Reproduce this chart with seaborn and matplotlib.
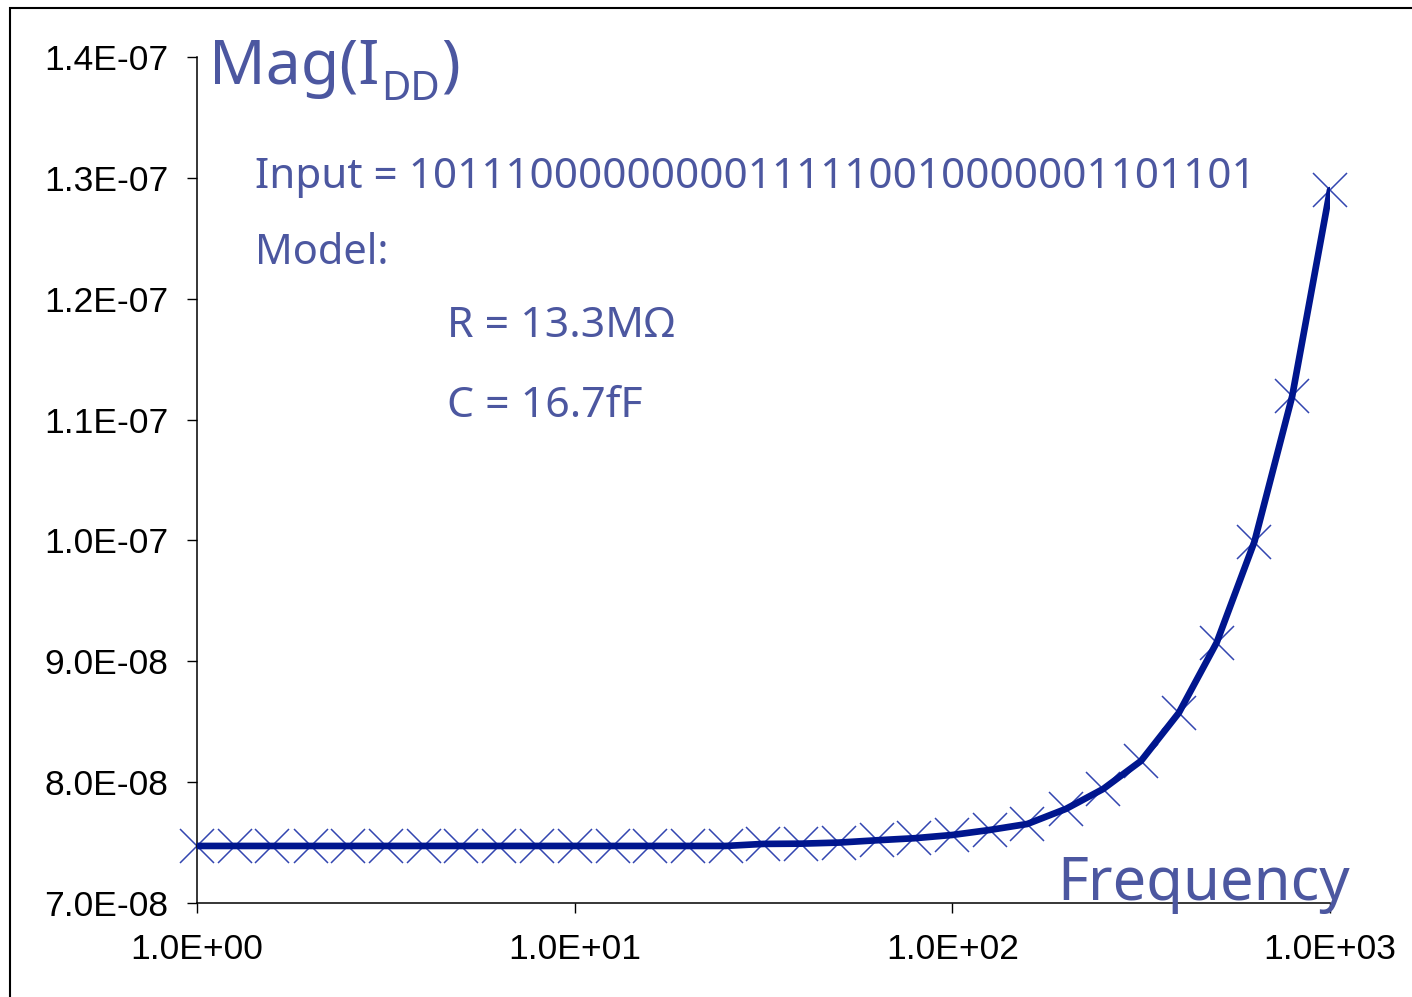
import matplotlib
matplotlib.use("Agg")
import matplotlib.pyplot as plt
import matplotlib.ticker as mticker
from matplotlib.patches import Rectangle
import pandas as pd
import seaborn as sns

# Supply-current magnitude versus frequency (log-spaced, 10 points per decade)
frequency = [1.0, 1.26, 1.58, 2.0, 2.51, 3.16, 3.98, 5.01, 6.31, 7.94,
             10.0, 12.6, 15.8, 20.0, 25.1, 31.6, 39.8, 50.1, 63.1, 79.4,
             100.0, 126.0, 158.0, 200.0, 251.0, 316.0, 398.0, 501.0, 631.0, 794.0,
             1000.0]
mag_idd = [7.472e-8, 7.472e-8, 7.472e-8, 7.472e-8, 7.472e-8, 7.472e-8, 7.472e-8,
           7.472e-8, 7.472e-8, 7.472e-8, 7.472e-8, 7.472e-8, 7.472e-8, 7.472e-8,
           7.472e-8, 7.489e-8, 7.491e-8, 7.500e-8, 7.519e-8, 7.536e-8, 7.563e-8,
           7.605e-8, 7.654e-8, 7.779e-8, 7.944e-8, 8.176e-8, 8.574e-8, 9.154e-8,
           9.991e-8, 11.192e-8, 12.899e-8]

y_ticks = [7.0e-8, 8.0e-8, 9.0e-8, 1.0e-7, 1.1e-7, 1.2e-7, 1.3e-7, 1.4e-7]
x_ticks = [1.0, 10.0, 100.0, 1000.0]

title_parts = ["Mag(I", "DD", ")"]
xlabel_text = "Frequency"
input_text = "Input = 10111000000000111110010000001101101"
model_lines = ["Model:", "R = 13.3M\u03a9", "C = 16.7fF"]

df = pd.DataFrame({"frequency": frequency, "mag": mag_idd})

sns.set_theme(style="white")
plt.rcParams["font.family"] = ["Liberation Sans", "DejaVu Sans"]

LINE = "#00168e"
MARK = "#3346b0"
TEXT = "#4c57a0"

fig = plt.figure(figsize=(14.12, 9.97), dpi=100)
ax = fig.add_axes([197 / 1412, 1 - 903 / 997, (1330 - 197) / 1412, (903 - 57) / 997])

sns.lineplot(data=df, x="frequency", y="mag", ax=ax, color=LINE, linewidth=4.8,
             zorder=3)
ax.plot(df["frequency"], df["mag"], linestyle="none", marker="x",
        markersize=24, markeredgewidth=1.1, markeredgecolor=MARK, zorder=2,
        clip_on=False)

ax.set_xscale("log")
ax.set_xlim(1, 1000)
ax.set_ylim(7.0e-8, 1.4e-7)
ax.xaxis.set_major_locator(mticker.FixedLocator(x_ticks))
ax.xaxis.set_minor_locator(mticker.NullLocator())
ax.yaxis.set_major_locator(mticker.FixedLocator(y_ticks))
ax.xaxis.set_major_formatter(mticker.FuncFormatter(lambda v, p: f"{v:.1E}"))
ax.yaxis.set_major_formatter(mticker.FuncFormatter(lambda v, p: f"{v:.1E}"))
ax.set_xlabel("")
ax.set_ylabel("")

for side in ("top", "right"):
    ax.spines[side].set_visible(False)
for side in ("left", "bottom"):
    ax.spines[side].set_color("black")
    ax.spines[side].set_linewidth(1.1)

ax.tick_params(axis="both", which="major", direction="out", length=7.5,
               width=1.0, color="black", labelcolor="black", labelsize=25.5,
               left=True, bottom=True)
ax.tick_params(axis="y", pad=13)
ax.tick_params(axis="x", pad=14)

# Title built from pieces so the subscript gets its own size
renderer = fig.canvas.get_renderer()
t1 = fig.text(209 / 1412, 1 - 84 / 997, title_parts[0], fontsize=45, color=TEXT,
              family="Noto Sans", va="baseline", ha="left")
bb = t1.get_window_extent(renderer)
t2 = fig.text(bb.x1 / 1412 + 2 / 1412, 1 - 100 / 997, title_parts[1], fontsize=29,
              color=TEXT, family="Noto Sans", va="baseline", ha="left")
bb2 = t2.get_window_extent(renderer)
fig.text(bb2.x1 / 1412 + 1 / 1412, 1 - 84 / 997, title_parts[2], fontsize=45,
         color=TEXT, family="Noto Sans", va="baseline", ha="left")

fig.text(1350 / 1412, 1 - 900 / 997, xlabel_text, fontsize=43, color=TEXT,
         family="Noto Sans", va="baseline", ha="right")
fig.text(255 / 1412, 1 - 188 / 997, input_text, fontsize=30.4, color=TEXT,
         family="Noto Sans", va="baseline", ha="left")
fig.text(255 / 1412, 1 - 264 / 997, model_lines[0], fontsize=30, color=TEXT,
         family="Noto Sans", va="baseline", ha="left")
fig.text(447 / 1412, 1 - 337 / 997, model_lines[1], fontsize=30.8, color=TEXT,
         family="Noto Sans", va="baseline", ha="left")
fig.text(447 / 1412, 1 - 417 / 997, model_lines[2], fontsize=30.8, color=TEXT,
         family="Noto Sans", va="baseline", ha="left")

# Chart area border
fig.patches.append(Rectangle((10 / 1412, -0.1), 1.2, 1.1 - 8 / 997,
                             transform=fig.transFigure, fill=False,
                             edgecolor="black", linewidth=1.5, zorder=0))

fig.savefig("out.png", dpi=100)
